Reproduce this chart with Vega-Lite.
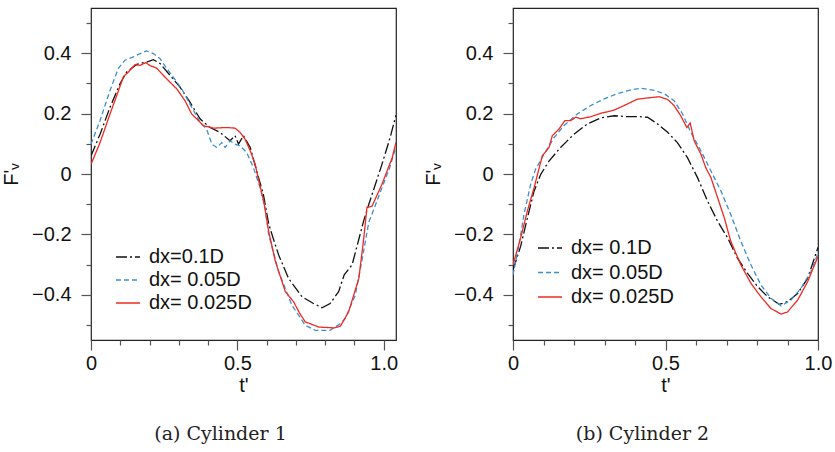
{
  "$schema": "https://vega.github.io/schema/vega-lite/v6.json",
  "padding": {"left": 0, "top": 7, "right": 5, "bottom": 5},
  "background": "white",
  "spacing": 23,
  "config": {
    "view": {"stroke": "#222", "strokeWidth": 1.2},
    "font": "Liberation Sans",
    "axis": {"grid": false, "domain": false, "tickColor": "#555", "tickWidth": 1.2, "labelFontSize": 20, "labelColor": "#111", "titleFontSize": 20, "titleFontWeight": "normal", "titleColor": "#111"},
    "legend": {"labelFontSize": 20, "labelColor": "#111", "symbolType": "stroke", "symbolSize": 576, "symbolStrokeWidth": 1.5, "rowPadding": 0, "labelOffset": 8}
  },
  "resolve": {"scale": {"color": "independent", "strokeDash": "independent"}, "legend": {"color": "independent", "strokeDash": "independent"}},
  "datasets": {
    "left": [
      {"t": 0, "F": 0.06, "s": "dx=0.1D"}, {"t": 0.031, "F": 0.132, "s": "dx=0.1D"}, {"t": 0.065, "F": 0.221, "s": "dx=0.1D"}, {"t": 0.099, "F": 0.299, "s": "dx=0.1D"}, {"t": 0.122, "F": 0.338, "s": "dx=0.1D"}, {"t": 0.156, "F": 0.363, "s": "dx=0.1D"}, {"t": 0.19, "F": 0.371, "s": "dx=0.1D"}, {"t": 0.213, "F": 0.379, "s": "dx=0.1D"}, {"t": 0.236, "F": 0.366, "s": "dx=0.1D"}, {"t": 0.27, "F": 0.327, "s": "dx=0.1D"}, {"t": 0.304, "F": 0.288, "s": "dx=0.1D"}, {"t": 0.338, "F": 0.238, "s": "dx=0.1D"}, {"t": 0.373, "F": 0.182, "s": "dx=0.1D"}, {"t": 0.407, "F": 0.154, "s": "dx=0.1D"}, {"t": 0.441, "F": 0.138, "s": "dx=0.1D"}, {"t": 0.475, "F": 0.11, "s": "dx=0.1D"}, {"t": 0.492, "F": 0.127, "s": "dx=0.1D"}, {"t": 0.504, "F": 0.099, "s": "dx=0.1D"}, {"t": 0.521, "F": 0.127, "s": "dx=0.1D"}, {"t": 0.544, "F": 0.088, "s": "dx=0.1D"}, {"t": 0.566, "F": 0.01, "s": "dx=0.1D"}, {"t": 0.589, "F": -0.068, "s": "dx=0.1D"}, {"t": 0.607, "F": -0.165, "s": "dx=0.1D"}, {"t": 0.623, "F": -0.215, "s": "dx=0.1D"}, {"t": 0.641, "F": -0.268, "s": "dx=0.1D"}, {"t": 0.675, "F": -0.346, "s": "dx=0.1D"}, {"t": 0.721, "F": -0.407, "s": "dx=0.1D"}, {"t": 0.76, "F": -0.429, "s": "dx=0.1D"}, {"t": 0.789, "F": -0.443, "s": "dx=0.1D"}, {"t": 0.817, "F": -0.429, "s": "dx=0.1D"}, {"t": 0.846, "F": -0.39, "s": "dx=0.1D"}, {"t": 0.865, "F": -0.334, "s": "dx=0.1D"}, {"t": 0.892, "F": -0.301, "s": "dx=0.1D"}, {"t": 0.931, "F": -0.157, "s": "dx=0.1D"}, {"t": 0.949, "F": -0.101, "s": "dx=0.1D"}, {"t": 0.994, "F": 0.032, "s": "dx=0.1D"}, {"t": 1.022, "F": 0.121, "s": "dx=0.1D"}, {"t": 1.042, "F": 0.195, "s": "dx=0.1D"},
      {"t": 0, "F": 0.099, "s": "dx= 0.05D"}, {"t": 0.031, "F": 0.177, "s": "dx= 0.05D"}, {"t": 0.065, "F": 0.277, "s": "dx= 0.05D"}, {"t": 0.093, "F": 0.349, "s": "dx= 0.05D"}, {"t": 0.116, "F": 0.377, "s": "dx= 0.05D"}, {"t": 0.145, "F": 0.388, "s": "dx= 0.05D"}, {"t": 0.168, "F": 0.399, "s": "dx= 0.05D"}, {"t": 0.19, "F": 0.408, "s": "dx= 0.05D"}, {"t": 0.213, "F": 0.399, "s": "dx= 0.05D"}, {"t": 0.236, "F": 0.382, "s": "dx= 0.05D"}, {"t": 0.259, "F": 0.349, "s": "dx= 0.05D"}, {"t": 0.281, "F": 0.321, "s": "dx= 0.05D"}, {"t": 0.31, "F": 0.282, "s": "dx= 0.05D"}, {"t": 0.344, "F": 0.221, "s": "dx= 0.05D"}, {"t": 0.373, "F": 0.171, "s": "dx= 0.05D"}, {"t": 0.395, "F": 0.149, "s": "dx= 0.05D"}, {"t": 0.413, "F": 0.099, "s": "dx= 0.05D"}, {"t": 0.43, "F": 0.088, "s": "dx= 0.05D"}, {"t": 0.447, "F": 0.104, "s": "dx= 0.05D"}, {"t": 0.458, "F": 0.088, "s": "dx= 0.05D"}, {"t": 0.475, "F": 0.11, "s": "dx= 0.05D"}, {"t": 0.492, "F": 0.099, "s": "dx= 0.05D"}, {"t": 0.509, "F": 0.093, "s": "dx= 0.05D"}, {"t": 0.532, "F": 0.071, "s": "dx= 0.05D"}, {"t": 0.555, "F": 0.021, "s": "dx= 0.05D"}, {"t": 0.578, "F": -0.046, "s": "dx= 0.05D"}, {"t": 0.595, "F": -0.112, "s": "dx= 0.05D"}, {"t": 0.607, "F": -0.201, "s": "dx= 0.05D"}, {"t": 0.641, "F": -0.323, "s": "dx= 0.05D"}, {"t": 0.686, "F": -0.434, "s": "dx= 0.05D"}, {"t": 0.732, "F": -0.501, "s": "dx= 0.05D"}, {"t": 0.766, "F": -0.518, "s": "dx= 0.05D"}, {"t": 0.817, "F": -0.518, "s": "dx= 0.05D"}, {"t": 0.851, "F": -0.496, "s": "dx= 0.05D"}, {"t": 0.869, "F": -0.479, "s": "dx= 0.05D"}, {"t": 0.903, "F": -0.401, "s": "dx= 0.05D"}, {"t": 0.925, "F": -0.29, "s": "dx= 0.05D"}, {"t": 0.949, "F": -0.16, "s": "dx= 0.05D"}, {"t": 0.967, "F": -0.115, "s": "dx= 0.05D"}, {"t": 0.994, "F": -0.046, "s": "dx= 0.05D"}, {"t": 1.02, "F": 0.02, "s": "dx= 0.05D"}, {"t": 1.042, "F": 0.09, "s": "dx= 0.05D"},
      {"t": 0, "F": 0.032, "s": "dx= 0.025D"}, {"t": 0.031, "F": 0.104, "s": "dx= 0.025D"}, {"t": 0.065, "F": 0.199, "s": "dx= 0.025D"}, {"t": 0.088, "F": 0.26, "s": "dx= 0.025D"}, {"t": 0.111, "F": 0.323, "s": "dx= 0.025D"}, {"t": 0.128, "F": 0.338, "s": "dx= 0.025D"}, {"t": 0.15, "F": 0.362, "s": "dx= 0.025D"}, {"t": 0.168, "F": 0.36, "s": "dx= 0.025D"}, {"t": 0.187, "F": 0.369, "s": "dx= 0.025D"}, {"t": 0.202, "F": 0.359, "s": "dx= 0.025D"}, {"t": 0.224, "F": 0.351, "s": "dx= 0.025D"}, {"t": 0.247, "F": 0.327, "s": "dx= 0.025D"}, {"t": 0.27, "F": 0.304, "s": "dx= 0.025D"}, {"t": 0.293, "F": 0.282, "s": "dx= 0.025D"}, {"t": 0.321, "F": 0.243, "s": "dx= 0.025D"}, {"t": 0.344, "F": 0.199, "s": "dx= 0.025D"}, {"t": 0.367, "F": 0.177, "s": "dx= 0.025D"}, {"t": 0.384, "F": 0.16, "s": "dx= 0.025D"}, {"t": 0.418, "F": 0.152, "s": "dx= 0.025D"}, {"t": 0.464, "F": 0.154, "s": "dx= 0.025D"}, {"t": 0.492, "F": 0.152, "s": "dx= 0.025D"}, {"t": 0.509, "F": 0.138, "s": "dx= 0.025D"}, {"t": 0.526, "F": 0.116, "s": "dx= 0.025D"}, {"t": 0.544, "F": 0.077, "s": "dx= 0.025D"}, {"t": 0.561, "F": 0.032, "s": "dx= 0.025D"}, {"t": 0.575, "F": -0.03, "s": "dx= 0.025D"}, {"t": 0.59, "F": -0.09, "s": "dx= 0.025D"}, {"t": 0.607, "F": -0.19, "s": "dx= 0.025D"}, {"t": 0.63, "F": -0.29, "s": "dx= 0.025D"}, {"t": 0.664, "F": -0.39, "s": "dx= 0.025D"}, {"t": 0.692, "F": -0.423, "s": "dx= 0.025D"}, {"t": 0.712, "F": -0.46, "s": "dx= 0.025D"}, {"t": 0.732, "F": -0.49, "s": "dx= 0.025D"}, {"t": 0.778, "F": -0.507, "s": "dx= 0.025D"}, {"t": 0.83, "F": -0.51, "s": "dx= 0.025D"}, {"t": 0.852, "F": -0.504, "s": "dx= 0.025D"}, {"t": 0.88, "F": -0.457, "s": "dx= 0.025D"}, {"t": 0.915, "F": -0.346, "s": "dx= 0.025D"}, {"t": 0.932, "F": -0.212, "s": "dx= 0.025D"}, {"t": 0.943, "F": -0.11, "s": "dx= 0.025D"}, {"t": 0.96, "F": -0.107, "s": "dx= 0.025D"}, {"t": 0.994, "F": -0.034, "s": "dx= 0.025D"}, {"t": 1.029, "F": 0.054, "s": "dx= 0.025D"}, {"t": 1.042, "F": 0.105, "s": "dx= 0.025D"}
    ],
    "right": [
      {"t": 0, "F": -0.318, "s": "dx= 0.1D"}, {"t": 0.025, "F": -0.24, "s": "dx= 0.1D"}, {"t": 0.047, "F": -0.146, "s": "dx= 0.1D"}, {"t": 0.069, "F": -0.057, "s": "dx= 0.1D"}, {"t": 0.091, "F": -0.001, "s": "dx= 0.1D"}, {"t": 0.118, "F": 0.043, "s": "dx= 0.1D"}, {"t": 0.156, "F": 0.088, "s": "dx= 0.1D"}, {"t": 0.2, "F": 0.132, "s": "dx= 0.1D"}, {"t": 0.244, "F": 0.166, "s": "dx= 0.1D"}, {"t": 0.288, "F": 0.186, "s": "dx= 0.1D"}, {"t": 0.332, "F": 0.193, "s": "dx= 0.1D"}, {"t": 0.375, "F": 0.19, "s": "dx= 0.1D"}, {"t": 0.414, "F": 0.19, "s": "dx= 0.1D"}, {"t": 0.441, "F": 0.188, "s": "dx= 0.1D"}, {"t": 0.474, "F": 0.166, "s": "dx= 0.1D"}, {"t": 0.507, "F": 0.138, "s": "dx= 0.1D"}, {"t": 0.539, "F": 0.104, "s": "dx= 0.1D"}, {"t": 0.572, "F": 0.054, "s": "dx= 0.1D"}, {"t": 0.605, "F": -0.012, "s": "dx= 0.1D"}, {"t": 0.638, "F": -0.09, "s": "dx= 0.1D"}, {"t": 0.671, "F": -0.157, "s": "dx= 0.1D"}, {"t": 0.704, "F": -0.212, "s": "dx= 0.1D"}, {"t": 0.736, "F": -0.279, "s": "dx= 0.1D"}, {"t": 0.769, "F": -0.329, "s": "dx= 0.1D"}, {"t": 0.802, "F": -0.373, "s": "dx= 0.1D"}, {"t": 0.835, "F": -0.407, "s": "dx= 0.1D"}, {"t": 0.873, "F": -0.432, "s": "dx= 0.1D"}, {"t": 0.9, "F": -0.423, "s": "dx= 0.1D"}, {"t": 0.933, "F": -0.396, "s": "dx= 0.1D"}, {"t": 0.966, "F": -0.346, "s": "dx= 0.1D"}, {"t": 1.0, "F": -0.243, "s": "dx= 0.1D"},
      {"t": 0, "F": -0.334, "s": "dx= 0.05D"}, {"t": 0.02, "F": -0.234, "s": "dx= 0.05D"}, {"t": 0.036, "F": -0.134, "s": "dx= 0.05D"}, {"t": 0.058, "F": -0.034, "s": "dx= 0.05D"}, {"t": 0.074, "F": 0.016, "s": "dx= 0.05D"}, {"t": 0.102, "F": 0.066, "s": "dx= 0.05D"}, {"t": 0.135, "F": 0.121, "s": "dx= 0.05D"}, {"t": 0.167, "F": 0.16, "s": "dx= 0.05D"}, {"t": 0.211, "F": 0.199, "s": "dx= 0.05D"}, {"t": 0.255, "F": 0.227, "s": "dx= 0.05D"}, {"t": 0.299, "F": 0.249, "s": "dx= 0.05D"}, {"t": 0.342, "F": 0.266, "s": "dx= 0.05D"}, {"t": 0.386, "F": 0.279, "s": "dx= 0.05D"}, {"t": 0.419, "F": 0.284, "s": "dx= 0.05D"}, {"t": 0.463, "F": 0.277, "s": "dx= 0.05D"}, {"t": 0.496, "F": 0.266, "s": "dx= 0.05D"}, {"t": 0.528, "F": 0.243, "s": "dx= 0.05D"}, {"t": 0.556, "F": 0.199, "s": "dx= 0.05D"}, {"t": 0.583, "F": 0.138, "s": "dx= 0.05D"}, {"t": 0.616, "F": 0.077, "s": "dx= 0.05D"}, {"t": 0.649, "F": 0.01, "s": "dx= 0.05D"}, {"t": 0.682, "F": -0.057, "s": "dx= 0.05D"}, {"t": 0.714, "F": -0.134, "s": "dx= 0.05D"}, {"t": 0.747, "F": -0.223, "s": "dx= 0.05D"}, {"t": 0.78, "F": -0.301, "s": "dx= 0.05D"}, {"t": 0.813, "F": -0.368, "s": "dx= 0.05D"}, {"t": 0.846, "F": -0.412, "s": "dx= 0.05D"}, {"t": 0.879, "F": -0.437, "s": "dx= 0.05D"}, {"t": 0.911, "F": -0.418, "s": "dx= 0.05D"}, {"t": 0.944, "F": -0.379, "s": "dx= 0.05D"}, {"t": 0.977, "F": -0.323, "s": "dx= 0.05D"}, {"t": 1.0, "F": -0.262, "s": "dx= 0.05D"},
      {"t": 0, "F": -0.301, "s": "dx= 0.025D"}, {"t": 0.025, "F": -0.212, "s": "dx= 0.025D"}, {"t": 0.047, "F": -0.123, "s": "dx= 0.025D"}, {"t": 0.069, "F": -0.046, "s": "dx= 0.025D"}, {"t": 0.096, "F": 0.06, "s": "dx= 0.025D"}, {"t": 0.118, "F": 0.088, "s": "dx= 0.025D"}, {"t": 0.129, "F": 0.127, "s": "dx= 0.025D"}, {"t": 0.151, "F": 0.149, "s": "dx= 0.025D"}, {"t": 0.17, "F": 0.177, "s": "dx= 0.025D"}, {"t": 0.189, "F": 0.177, "s": "dx= 0.025D"}, {"t": 0.206, "F": 0.188, "s": "dx= 0.025D"}, {"t": 0.222, "F": 0.183, "s": "dx= 0.025D"}, {"t": 0.255, "F": 0.19, "s": "dx= 0.025D"}, {"t": 0.288, "F": 0.201, "s": "dx= 0.025D"}, {"t": 0.332, "F": 0.212, "s": "dx= 0.025D"}, {"t": 0.375, "F": 0.232, "s": "dx= 0.025D"}, {"t": 0.408, "F": 0.248, "s": "dx= 0.025D"}, {"t": 0.441, "F": 0.252, "s": "dx= 0.025D"}, {"t": 0.479, "F": 0.256, "s": "dx= 0.025D"}, {"t": 0.507, "F": 0.247, "s": "dx= 0.025D"}, {"t": 0.528, "F": 0.227, "s": "dx= 0.025D"}, {"t": 0.55, "F": 0.193, "s": "dx= 0.025D"}, {"t": 0.57, "F": 0.154, "s": "dx= 0.025D"}, {"t": 0.581, "F": 0.169, "s": "dx= 0.025D"}, {"t": 0.594, "F": 0.11, "s": "dx= 0.025D"}, {"t": 0.616, "F": 0.066, "s": "dx= 0.025D"}, {"t": 0.632, "F": 0.021, "s": "dx= 0.025D"}, {"t": 0.649, "F": -0.012, "s": "dx= 0.025D"}, {"t": 0.671, "F": -0.079, "s": "dx= 0.025D"}, {"t": 0.693, "F": -0.146, "s": "dx= 0.025D"}, {"t": 0.714, "F": -0.223, "s": "dx= 0.025D"}, {"t": 0.747, "F": -0.301, "s": "dx= 0.025D"}, {"t": 0.78, "F": -0.362, "s": "dx= 0.025D"}, {"t": 0.813, "F": -0.407, "s": "dx= 0.025D"}, {"t": 0.846, "F": -0.446, "s": "dx= 0.025D"}, {"t": 0.879, "F": -0.464, "s": "dx= 0.025D"}, {"t": 0.9, "F": -0.457, "s": "dx= 0.025D"}, {"t": 0.933, "F": -0.418, "s": "dx= 0.025D"}, {"t": 0.966, "F": -0.357, "s": "dx= 0.025D"}, {"t": 1.0, "F": -0.273, "s": "dx= 0.025D"}
    ]
  },
  "hconcat": [
    {
      "width": 305, "height": 332,
      "data": {"name": "left"},
      "title": {"text": "(a) Cylinder 1", "orient": "bottom", "font": "DejaVu Serif", "fontSize": 19, "fontWeight": "normal", "color": "#222", "anchor": "middle", "frame": "group", "dx": -23, "offset": 30},
      "mark": {"type": "line", "strokeWidth": 1.3, "clip": true},
      "encoding": {
        "x": {"field": "t", "type": "quantitative", "scale": {"domain": [0, 1.042], "nice": false, "zero": false},
          "axis": {"title": "t'", "values": [0, 0.1, 0.2, 0.3, 0.4, 0.5, 0.6, 0.7, 0.8, 0.9, 1.0],
            "labelExpr": "abs(datum.value) < 0.001 ? '0' : (abs(datum.value - 0.5) < 0.001 ? '0.5' : (abs(datum.value - 1) < 0.001 ? '1.0' : ''))",
            "tickSize": {"condition": {"test": "abs(round(datum.value * 10)) % 5 == 0", "value": 10}, "value": 5},
            "labelPadding": 3, "titlePadding": 2, "labelFlush": false}},
        "y": {"field": "F", "type": "quantitative", "scale": {"domain": [-0.55, 0.55], "nice": false, "zero": false},
          "axis": {"title": "F'ᵥ", "values": [-0.5, -0.4, -0.3, -0.2, -0.1, 0, 0.1, 0.2, 0.3, 0.4, 0.5],
            "labelExpr": "abs(datum.value) < 0.001 ? '0' : (abs(round(datum.value * 10)) % 2 == 0 ? format(datum.value, '.1f') : '')",
            "tickSize": {"condition": {"test": "abs(round(datum.value * 10)) % 2 == 0", "value": 10}, "value": 5},
            "labelPadding": 10, "titlePadding": 10}},
        "color": {"field": "s", "type": "nominal", "scale": {"domain": ["dx=0.1D", "dx= 0.05D", "dx= 0.025D"], "range": ["#111111", "#3b8fd0", "#ee2a22"]},
          "legend": {"title": null, "orient": "none", "legendX": 24, "legendY": 236}},
        "strokeDash": {"field": "s", "type": "nominal", "scale": {"domain": ["dx=0.1D", "dx= 0.05D", "dx= 0.025D"], "range": [[11, 3, 2, 3], [5, 3], [1, 0]]},
          "legend": {"title": null, "orient": "none", "legendX": 24, "legendY": 236}}
      }
    },
    {
      "width": 305, "height": 332,
      "data": {"name": "right"},
      "title": {"text": "(b) Cylinder 2", "orient": "bottom", "font": "DejaVu Serif", "fontSize": 19, "fontWeight": "normal", "color": "#222", "anchor": "middle", "frame": "group", "dx": -23, "offset": 30},
      "mark": {"type": "line", "strokeWidth": 1.3, "clip": true},
      "encoding": {
        "x": {"field": "t", "type": "quantitative", "scale": {"domain": [0, 1.0], "nice": false, "zero": false},
          "axis": {"title": "t'", "values": [0, 0.1, 0.2, 0.3, 0.4, 0.5, 0.6, 0.7, 0.8, 0.9, 1.0],
            "labelExpr": "abs(datum.value) < 0.001 ? '0' : (abs(datum.value - 0.5) < 0.001 ? '0.5' : (abs(datum.value - 1) < 0.001 ? '1.0' : ''))",
            "tickSize": {"condition": {"test": "abs(round(datum.value * 10)) % 5 == 0", "value": 10}, "value": 5},
            "labelPadding": 3, "titlePadding": 2, "labelFlush": false}},
        "y": {"field": "F", "type": "quantitative", "scale": {"domain": [-0.55, 0.55], "nice": false, "zero": false},
          "axis": {"title": "F'ᵥ", "values": [-0.5, -0.4, -0.3, -0.2, -0.1, 0, 0.1, 0.2, 0.3, 0.4, 0.5],
            "labelExpr": "abs(datum.value) < 0.001 ? '0' : (abs(round(datum.value * 10)) % 2 == 0 ? format(datum.value, '.1f') : '')",
            "tickSize": {"condition": {"test": "abs(round(datum.value * 10)) % 2 == 0", "value": 10}, "value": 5},
            "labelPadding": 10, "titlePadding": 10}},
        "color": {"field": "s", "type": "nominal", "scale": {"domain": ["dx= 0.1D", "dx= 0.05D", "dx= 0.025D"], "range": ["#111111", "#3b8fd0", "#ee2a22"]},
          "legend": {"title": null, "orient": "none", "legendX": 24, "legendY": 227, "rowPadding": 1.5}},
        "strokeDash": {"field": "s", "type": "nominal", "scale": {"domain": ["dx= 0.1D", "dx= 0.05D", "dx= 0.025D"], "range": [[11, 3, 2, 3], [5, 3], [1, 0]]},
          "legend": {"title": null, "orient": "none", "legendX": 24, "legendY": 227, "rowPadding": 1.5}}
      }
    }
  ]
}
